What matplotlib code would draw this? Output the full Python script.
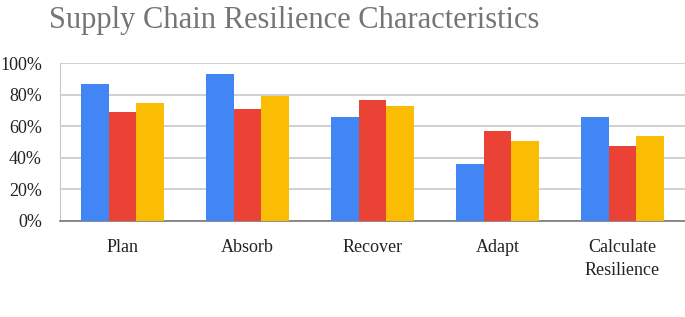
import numpy as np
import matplotlib.pyplot as plt
from matplotlib.ticker import PercentFormatter

categories = ['Plan', 'Absorb', 'Recover', 'Adapt', 'Calculate\nResilience']
serie_bleue = [87, 93.5, 66, 36, 66]
serie_rouge = [69, 71, 77, 57, 47.5]
serie_jaune = [75, 79, 73, 50.5, 54]
couleurs = ['#4285F4', '#EA4335', '#FBBC04']

plt.rcParams['font.family'] = ['Liberation Serif', 'DejaVu Serif']

fig = plt.figure(figsize=(6.85, 3.17), dpi=100)
ax = fig.add_axes([0.0876, 0.304, 0.9124, 0.496])

x = np.arange(len(categories))
w = 0.222
for i, (vals, c) in enumerate(zip([serie_bleue, serie_rouge, serie_jaune], couleurs)):
    ax.bar(x + (i - 1) * w, vals, w, color=c, zorder=3)

ax.set_xlim(-0.5, len(categories) - 0.5)
ax.set_ylim(0, 100)
ax.set_yticks(np.arange(0, 101, 20))
ax.yaxis.set_major_formatter(PercentFormatter(decimals=0))
ax.set_xticks(x)
ax.set_xticklabels(categories, fontsize=13, color='#222222', linespacing=1.45)
ax.tick_params(axis='y', labelsize=13, labelcolor='#222222', length=0, pad=13)
ax.tick_params(axis='x', length=0, pad=13)
ax.grid(axis='y', color='#c8c8c8', linewidth=1.2, zorder=0)
for s in ['top', 'right']:
    ax.spines[s].set_visible(False)
ax.spines['left'].set_color('#c8c8c8')
ax.spines['bottom'].set_color('#777777')
ax.spines['bottom'].set_linewidth(1.2)

fig.text(0.43, 0.935, 'Supply Chain Resilience Characteristics', ha='center', va='center',
         fontsize=22, color='#757575')

fig.savefig('out.png', dpi=100)
